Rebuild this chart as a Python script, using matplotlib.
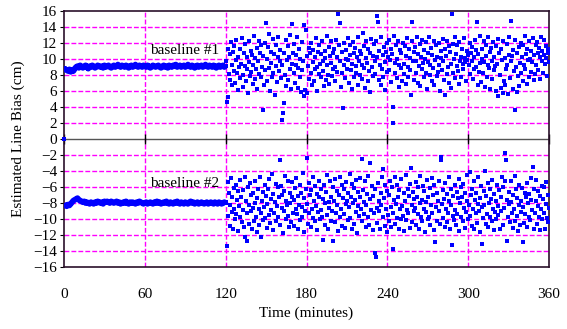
import numpy as np
import matplotlib
matplotlib.use("Agg")
import matplotlib.pyplot as plt

plt.rcParams['font.family'] = ['Liberation Serif', 'DejaVu Serif']

# ---------------- data ----------------
start_t = [0.0]
start_v = [0.0]

stable1 = [8.9, 8.7, 8.6, 8.5, 8.7, 8.4, 8.6, 8.5, 8.8, 9.0,
           9.1, 8.9, 9.2, 9.0, 8.9, 9.1, 9.2, 9.0, 8.8, 9.1,
           9.0, 9.2, 9.1, 8.9, 9.0, 9.2, 9.1, 9.0, 9.1, 8.9,
           9.2, 9.0, 9.1, 9.2, 9.0, 8.9, 9.1, 9.2, 9.0, 9.1,
           9.3, 9.1, 9.0, 9.2, 9.1, 9.0, 9.2, 9.1, 8.9, 9.1,
           9.2, 9.0, 9.1, 9.3, 9.1, 9.0, 9.2, 9.1, 9.0, 9.2,
           9.1, 9.0, 9.2, 9.1, 8.9, 9.0, 9.2, 9.1, 9.0, 9.1,
           9.2, 9.0, 8.9, 9.1, 9.2, 9.0, 9.1, 8.9, 9.2, 9.1,
           9.0, 9.2, 9.1, 9.3, 9.0, 9.1, 9.2, 9.0, 9.1, 9.2,
           9.0, 9.1, 9.3, 9.1, 9.0, 9.2, 9.1, 8.9, 9.1, 9.2,
           9.0, 9.1, 9.2, 9.0, 9.1, 9.3, 9.1, 9.0, 9.2, 9.1,
           9.0, 9.2, 9.1, 8.9, 9.1, 9.2, 9.0, 9.1, 9.2, 9.0, 9.1]

stable2 = [-8.2, -8.3, -8.4, -8.2, -8.3, -8.1, -7.9, -7.7, -7.6, -7.5,
           -7.4, -7.6, -7.7, -7.8, -7.9, -7.8, -8.0, -7.9, -8.0, -8.1,
           -7.9, -8.0, -8.1, -7.9, -8.0, -7.8, -7.9, -8.0, -7.9, -8.1,
           -7.8, -7.9, -7.8, -7.9, -8.0, -7.8, -7.9, -8.0, -7.9, -7.8,
           -8.0, -7.9, -8.1, -8.0, -7.9, -8.0, -7.8, -8.0, -8.1, -7.9,
           -8.0, -7.9, -8.0, -8.1, -7.9, -8.0, -7.8, -7.9, -8.0, -8.1,
           -8.0, -7.9, -8.1, -8.0, -7.9, -8.0, -8.1, -7.9, -8.0, -7.8,
           -8.0, -7.9, -8.1, -8.0, -7.9, -8.0, -7.8, -8.0, -8.1, -7.9,
           -8.0, -8.1, -7.9, -8.0, -7.8, -8.0, -8.1, -7.9, -8.0, -8.1,
           -7.9, -8.0, -8.1, -7.9, -7.8, -8.0, -7.9, -8.1, -8.0, -7.9,
           -8.1, -8.0, -7.9, -8.0, -8.1, -8.0, -7.9, -8.1, -8.0, -7.9,
           -8.0, -8.1, -7.9, -8.0, -8.1, -7.9, -8.0, -8.1, -8.0, -7.9, -8.0]

noisy1 = [
    9.8, 4.6, 11.2, 5.2, 8.1, 10.6, 7.4, 12.1, 9.3, 6.8, 10.9, 8.5, 11.6, 7.0, 9.9, 12.4, 8.2, 6.1, 10.3, 9.0,
    7.6, 11.3, 9.4, 12.6, 8.0, 6.5, 10.7, 9.1, 11.9, 7.2, 8.8, 10.2, 5.8, 12.2, 9.6, 7.9, 11.0, 8.4, 10.5, 6.9,
    9.2, 12.9, 7.5, 10.1, 8.7, 11.4, 6.3, 9.7, 12.3, 8.1, 10.8, 7.7, 11.7, 9.0, 3.6, 10.4, 6.7, 12.0, 8.6, 14.5,
    10.0, 7.3, 11.5, 8.9, 13.1, 6.0, 9.5, 10.9, 7.8, 12.5, 8.3, 10.6, 5.5, 11.8, 9.1, 7.1, 10.2, 12.8, 8.5, 9.8,
    11.1, 7.6, 9.3, 2.4, 3.3, 4.5, 10.7, 8.0, 12.4, 6.6, 9.9, 11.6, 7.4, 10.3, 8.8, 13.0, 6.2, 14.4, 9.4, 10.8,
    8.2, 11.9, 7.0, 10.5, 9.2, 12.7, 6.4, 8.9, 11.2, 7.8, 10.0, 5.9, 12.1, 8.6, 9.7, 14.2, 5.4, 6.1, 13.6, 10.4,
    5.7, 9.1, 11.4, 7.5, 10.8, 8.3, 12.0, 6.8, 9.6, 11.1, 7.2, 10.2, 8.7, 12.6, 9.0, 6.0, 10.9, 8.1, 11.8, 9.4,
    7.7, 10.6, 12.3, 8.5, 9.8, 6.6, 11.0, 10.1, 7.4, 12.9, 9.2, 8.0, 11.5, 6.9, 10.4, 9.5, 12.2, 7.9, 10.7, 8.8,
    11.3, 9.0, 7.3, 12.4, 10.2, 8.4, 15.6, 11.7, 14.5, 9.7, 6.5, 10.9, 8.2, 3.9, 12.0, 9.3, 7.6, 11.1, 10.0, 8.7,
    12.6, 9.9, 7.0, 10.5, 11.8, 8.6, 9.4, 6.2, 12.1, 10.8, 7.8, 11.4, 9.1, 8.3, 10.3, 12.8, 6.8, 9.7, 11.0, 8.0,
    10.6, 7.5, 9.2, 13.3, 11.6, 8.9, 6.4, 10.1, 12.3, 9.5, 7.2, 11.2, 8.5, 10.7, 5.9, 12.5, 9.0, 7.9, 10.4, 11.9,
    8.1, 9.8, 12.2, 15.4, 10.3, 14.6, 7.4, 11.0, 9.3, 6.7, 12.7, 8.8, 10.5, 7.7, 11.5, 9.6, 6.1, 10.9, 12.0, 8.4,
    10.2, 12.4, 8.6, 9.9, 7.1, 11.3, 10.6, 4.0, 2.0, 12.9, 8.2, 9.5, 11.8, 7.6, 10.0, 12.3, 6.5, 9.2, 11.1, 8.9,
    10.8, 7.3, 12.0, 9.4, 8.1, 11.6, 6.9, 10.4, 12.6, 9.0, 7.8, 11.2, 8.6, 10.1, 5.5, 12.2, 14.6, 9.7, 7.4, 10.9,
    11.5, 8.3, 9.8, 12.7, 7.0, 10.6, 9.1, 11.9, 6.6, 10.2, 8.7, 12.4, 9.5, 7.7, 11.1, 10.0, 8.2, 12.1, 6.3, 9.6,
    10.7, 12.8, 8.0, 9.3, 11.4, 7.2, 10.5, 8.9, 12.3, 6.8, 9.9, 11.7, 7.9, 10.3, 8.4, 12.0, 9.2, 6.0, 11.0, 10.1,
    8.6, 12.5, 9.7, 7.4, 11.3, 5.5, 10.4, 8.1, 12.2, 9.0, 11.6, 7.0, 10.9, 6.4, 9.4, 15.6, 11.9, 8.3, 10.0, 12.7,
    7.6, 10.6, 9.1, 11.8, 8.5, 12.1, 6.9, 9.8, 10.3, 7.8, 11.2, 9.4, 8.8, 12.6, 10.1, 9.6, 7.3, 11.0, 9.9, 10.5,
    9.3, 12.0, 8.1, 10.8, 9.7, 11.5, 7.5, 10.2, 8.7, 12.4, 9.0, 11.1, 14.6, 6.8, 10.6, 8.4, 12.9, 9.5, 7.1, 11.3,
    10.0, 8.2, 12.3, 9.6, 6.5, 11.7, 10.4, 7.8, 9.2, 12.8, 8.9, 10.9, 6.2, 11.4, 9.8, 7.5, 12.1, 10.3, 8.6, 9.1,
    11.6, 6.0, 9.4, 12.5, 5.4, 10.7, 8.0, 6.4, 11.2, 9.9, 5.8, 12.2, 7.3, 10.1, 6.7, 8.8, 11.9, 9.3, 5.6, 10.5,
    12.7, 7.6, 9.7, 14.8, 10.4, 6.3, 11.1, 8.5, 12.4, 3.6, 9.0, 5.9, 10.8, 7.9, 11.5, 6.6, 9.5, 12.0, 8.2, 10.2,
    7.2, 11.8, 9.3, 12.9, 8.8, 10.6, 6.9, 11.3, 9.9, 7.7, 12.3, 10.0, 8.4, 11.0, 9.6, 12.6, 7.4, 10.5, 8.1, 11.7,
    9.2, 12.1, 10.7, 8.6, 11.4, 7.5, 10.2, 12.8, 9.7, 11.0, 8.3, 10.5, 12.4, 9.4, 11.6, 10.1, 7.9, 11.2, 10.8, 9.6,
]

noisy2 = [
    -7.9, -13.4, -5.4, -9.6, -6.8, -10.9, -8.2, -4.9, -9.1, -7.3, -11.2, -6.1, -8.7, -10.0, -5.8, -9.4, -7.6, -11.5, -6.5, -8.4,
    -9.8, -5.1, -7.2, -10.4, -6.4, -8.9, -11.0, -4.7, -12.2, -7.8, -12.7, -9.3, -6.0, -8.3, -10.6, -5.5, -9.0, -7.0, -11.3, -8.6,
    -6.7, -10.2, -8.0, -5.3, -9.7, -7.4, -11.6, -6.2, -8.8, -10.7, -4.8, -9.2, -12.2, -7.7, -6.6, -10.1, -8.5, -5.7, -9.9, -7.1,
    -11.1, -8.1, -6.3, -9.5, -5.0, -10.5, -7.5, -8.9, -4.4, -11.4, -6.9, -9.3, -7.9, -5.6, -10.3, -8.4, -6.0, -9.8, -7.2, -2.6,
    -10.8, -5.9, -8.6, -7.0, -11.7, -6.5, -9.0, -4.6, -10.0, -7.8, -8.3, -5.2, -9.6, -11.0, -6.8, -8.0, -10.4, -7.3, -5.4, -9.2,
    -7.6, -10.9, -6.1, -8.8, -4.9, -9.4, -11.3, -7.1, -8.2, -5.8, -10.1, -6.7, -9.7, -8.5, -4.3, -11.6, -7.4, -9.0, -6.3, -2.4,
    -8.1, -10.6, -5.5, -9.3, -7.0, -11.0, -6.4, -8.7, -4.8, -9.9, -7.7, -10.3, -5.9, -8.4, -11.4, -6.9, -9.1, -7.3, -5.2, -10.0,
    -8.9, -6.2, -9.8, -7.5, -12.6, -5.7, -10.7, -8.0, -6.6, -9.5, -4.5, -11.2, -7.9, -8.6, -5.3, -10.2, -7.2, -9.0, -12.7, -6.0,
    -7.7, -10.4, -5.0, -9.2, -8.3, -6.5, -11.5, -7.0, -4.7, -9.7, -8.8, -5.8, -10.9, -7.4, -6.3, -9.4, -11.1, -8.1, -5.4, -7.8,
    -10.1, -6.8, -8.5, -4.4, -9.9, -7.2, -11.3, -5.6, -8.0, -6.1, -10.6, -7.6, -9.1, -5.1, -11.8, -8.4, -6.6, -9.6, -7.3, -4.9,
    -8.7, -2.5, -10.3, -6.4, -9.4, -7.9, -5.3, -11.0, -8.2, -6.9, -9.8, -4.6, -10.8, -3.0, -7.5, -8.9, -5.9, -11.4, -7.1, -9.2,
    -6.2, -14.3, -14.8, -8.6, -10.5, -5.5, -9.0, -7.7, -11.2, -6.7, -8.3, -4.8, -9.7, -3.8, -7.4, -10.9, -5.8, -8.8, -11.6, -6.5,
    -9.5, -7.0, -10.2, -5.2, -8.5, -11.0, -6.0, -13.8, -9.3, -7.6, -4.7, -10.6, -8.1, -5.7, -9.9, -7.3, -11.3, -6.4, -8.7, -10.0,
    -5.0, -8.4, -9.6, -6.8, -11.5, -7.8, -4.5, -10.1, -8.9, -6.2, -9.2, -7.1, -11.1, -5.6, -3.6, -8.2, -10.4, -6.6, -9.0, -7.5,
    -8.6, -5.4, -10.7, -7.2, -9.4, -6.0, -11.2, -8.0, -4.6, -9.8, -7.6, -10.3, -5.9, -8.8, -6.5, -11.6, -7.9, -9.1, -5.1, -10.0,
    -7.3, -9.7, -6.1, -10.8, -8.3, -4.9, -9.3, -7.0, -11.4, -5.7, -12.9, -8.5, -6.7, -10.2, -7.8, -9.0, -5.3, -10.6, -2.6, -2.2,
    -8.1, -6.4, -9.9, -7.5, -11.0, -5.5, -8.7, -10.4, -6.9, -9.2, -4.8, -7.7, -11.3, -8.3, -6.2, -13.3, -9.6, -7.1, -10.1, -5.8,
    -8.9, -10.7, -6.6, -9.4, -7.4, -5.0, -11.5, -8.0, -6.0, -9.8, -7.2, -10.3, -5.6, -8.6, -11.1, -6.8, -9.1, -7.7, -4.5, -10.0,
    -8.3, -4.1, -9.6, -7.0, -10.9, -6.3, -8.8, -5.3, -11.2, -7.6, -9.3, -6.7, -10.5, -8.1, -4.7, -9.0, -7.4, -11.6, -5.9, -8.5,
    -13.1, -9.9, -6.5, -8.2, -4.0, -10.6, -7.1, -9.4, -5.5, -11.0, -8.0, -6.2, -9.7, -7.5, -10.2, -5.1, -8.7, -11.4, -6.9, -9.1,
    -7.8, -10.0, -5.7, -9.5, -8.4, -6.4, -11.3, -7.2, -9.0, -4.8, -10.7, -6.0, -8.6, -5.3, -1.7, -2.6, -12.8, -7.6, -9.8, -8.1,
    -6.6, -10.4, -7.9, -5.2, -9.3, -11.1, -7.0, -8.8, -4.6, -10.2, -6.3, -9.6, -7.4, -11.5, -8.2, -5.8, -10.8, -7.7, -9.1, -6.1,
    -12.9, -8.5, -10.5, -6.7, -9.4, -7.3, -11.0, -5.5, -8.0, -9.8, -6.9, -10.1, -7.6, -4.9, -8.9, -3.5, -11.3, -6.2, -9.2, -7.8,
    -5.1, -10.6, -8.4, -6.5, -9.7, -7.1, -11.4, -8.7, -5.9, -10.0, -7.5, -9.3, -6.0, -11.2, -8.1, -5.4, -9.9, -7.0, -10.4, -8.6,
]

xticks = [0, 60, 120, 180, 240, 300, 360]
yticks = list(range(-16, 17, 2))
labels = ["baseline #1", "baseline #2"]

# ---------------- plot ----------------
fig = plt.figure(figsize=(5.67, 3.29), dpi=100)
ax = fig.add_axes([64/567, 62/329, 485/567, 256/329])

blue = '#0000ff'
magenta = '#ff00ff'
t_st1 = np.arange(len(stable1))
t_st2 = np.arange(len(stable2))
t_n1 = 120 + 0.5 * np.arange(1, len(noisy1) + 1)
t_n2 = 120 + 0.5 * np.arange(1, len(noisy2) + 1)

# stable segments: drawn as dense band
for t, v in ((t_st1, stable1), (t_st2, stable2)):
    ax.plot(t, v, color=blue, lw=4.2, solid_capstyle='butt', zorder=3)
    ax.plot(t, v, 's', color=blue, ms=3.2, mew=0, zorder=3)

ax.plot(t_n1, noisy1, 's', color=blue, ms=2.3, mew=0, zorder=3)
ax.plot(t_n2, noisy2, 's', color=blue, ms=2.3, mew=0, zorder=3)
ax.plot(start_t, start_v, 's', color=blue, ms=2.3, mew=0, zorder=3, clip_on=False)

ax.set_xlim(0, 360)
ax.set_ylim(-16, 16)
ax.set_xticks(xticks)
ax.set_yticks(yticks)
ax.tick_params(axis='x', length=0, pad=15, labelsize=11)
ax.tick_params(axis='y', length=3, direction='out', pad=2, labelsize=11)

# grid (magenta dashed), zero line solid
for y in yticks:
    if y in (-16, 16):
        continue
    if y == 0:
        ax.axhline(0, color='#555555', lw=1.0, zorder=2)
    else:
        ax.axhline(y, color=magenta, lw=1.0, ls=(0, (3.5, 1.5)), zorder=1)
for x in xticks[1:-1]:
    ax.axvline(x, color=magenta, lw=1.0, ls=(0, (3.5, 1.5)), zorder=1)
# tick marks on the zero axis
ax.plot(xticks, [0] * len(xticks), '|', color='black', ms=7, mew=1.0, zorder=2, clip_on=False)

for sp in ax.spines.values():
    sp.set_color('#2a102a')
    sp.set_linewidth(1.2)

ax.text(64, 10.2, labels[0], fontsize=11, ha='left', va='bottom', zorder=4)
ax.text(64, -6.4, labels[1], fontsize=11, ha='left', va='bottom', zorder=4)

ax.set_xlabel("Time (minutes)", fontsize=11, labelpad=4)
ax.set_ylabel("Estimated Line Bias (cm)", fontsize=11, labelpad=6)

fig.savefig("out.png", dpi=100)
